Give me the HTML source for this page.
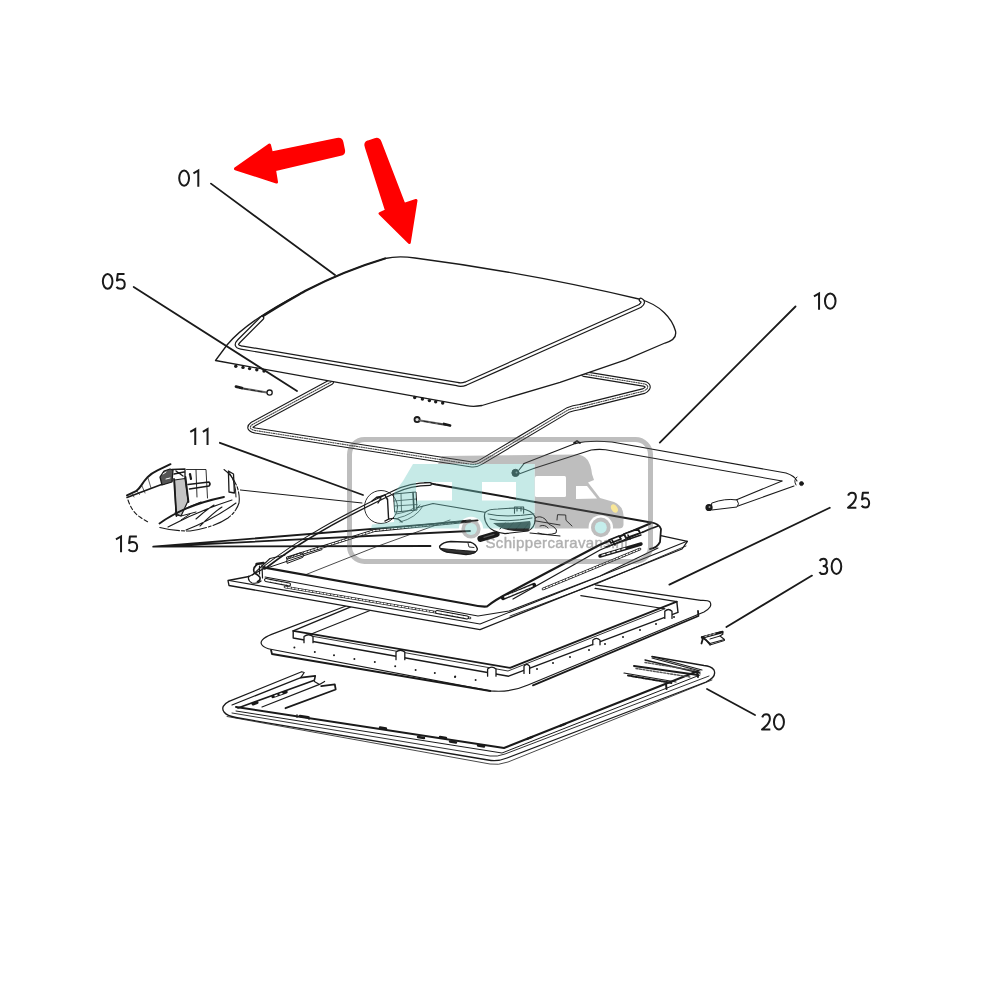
<!DOCTYPE html>
<html><head><meta charset="utf-8"><style>
html,body{margin:0;padding:0;background:#fff;width:1000px;height:1000px;overflow:hidden}
svg{position:absolute;left:0;top:0}
.lbl{font-family:"Liberation Sans",sans-serif;font-size:23px;fill:#1a1a1a}
</style></head><body>
<svg width="1000" height="1000" viewBox="0 0 1000 1000">
<g fill="none" stroke="#1a1a1a" stroke-linecap="round" stroke-linejoin="round">

<!-- ===== Seal 05 ===== -->
<g id="seal">
<path d="M331 382 L252.5 424.5 Q247 428.5 255 430.5 L472 464.5 Q476 465 481 462 L568 410 Q573 408 580 407 L644 391 Q651 387 645 384 L584 374" stroke-width="6"/>
<path d="M331 382 L252.5 424.5 Q247 428.5 255 430.5 L472 464.5 Q476 465 481 462 L568 410 Q573 408 580 407 L644 391 Q651 387 645 384 L584 374" stroke="#fff" stroke-width="3.8"/>
<path d="M331 382 L252.5 424.5 Q247 428.5 255 430.5 L472 464.5 Q476 465 481 462 L568 410 Q573 408 580 407 L644 391 Q651 387 645 384 L584 374" stroke="#444" stroke-width="1.1" stroke-dasharray="1.2 1.2"/>
</g>

<!-- ===== Lid 01 ===== -->
<g id="lid">
<path d="M215.5 360.5 L227 345 C240 329 262 313 305 291 C330 278 360 266 385 258.5 Q398 255.5 415 258 Q530 273 641 299.5 C660 305 672 318 675.5 331 C677 338 672 341 665 343 L625.6 359.8 L560 382.3 L482 405.5 Q474 407 466.4 405.7 Z" fill="#fff" stroke-width="1.3"/>
<path d="M260 318 C280 305 300 294 305 291 C330 278 360 266 385 258.5" stroke-width="2.2"/>
<path d="M262 318 L239 341 Q234 346 241 347.5 L457 384 Q461 385.5 466 383.5 L640 306 Q645 302 641 300" stroke-width="4.6"/>
<path d="M262 318 L239 341 Q234 346 241 347.5 L457 384 Q461 385.5 466 383.5 L640 306 Q645 302 641 300" stroke="#fff" stroke-width="2.2"/>
</g>
<g id="bumps" fill="#1a1a1a" stroke="none">
<circle cx="235.8" cy="366.2" r="1.7"/><circle cx="243" cy="367.4" r="1.7"/><circle cx="249.6" cy="368.6" r="1.7"/><circle cx="256.8" cy="369.8" r="1.7"/><circle cx="264" cy="371" r="1.7"/>
<circle cx="414.7" cy="397.5" r="1.7"/><circle cx="422.4" cy="399" r="1.7"/><circle cx="429.4" cy="400.6" r="1.7"/><circle cx="435.7" cy="401.8" r="1.7"/><circle cx="442.7" cy="403" r="1.7"/>
</g>
<!-- screws -->
<g id="screws">
<path d="M240 388 L267 392.5" stroke="#666" stroke-width="2.2"/>
<path d="M244 388.8 l4 0.6 m3 0.6 l4 0.6 m3 0.6 l4 0.6" stroke="#222" stroke-width="1"/>
<path d="M236 386.6 L242 388" stroke-width="2.8"/>
<circle cx="269.6" cy="392.6" r="2.6" fill="#fff" stroke-width="1.3"/>
<circle cx="417.1" cy="419.6" r="2.6" fill="#ddd" stroke-width="1.8"/>
<path d="M420 420.5 L446 424.8" stroke="#666" stroke-width="2.2"/>
<path d="M424 421.3 l4 0.6 m3 0.6 l4 0.6 m3 0.6 l4 0.6" stroke="#222" stroke-width="1"/>
<path d="M444 424 L450 425.5" stroke-width="2.8"/>
</g>

<!-- ===== Frame 20 ===== -->
<g id="frame20">
<path d="M229 701.4 Q220 706 224 712 Q227 716 236 717.5 L488 760 Q497 762 507 758 L706 682 Q717 677 714 670 Q711 666 704 665.5 L652 656.5" stroke-width="1.3"/>
<path d="M232 713 L490 756 Q497 757 505 754 L709 676" stroke-width="0.9"/>
<path d="M227 716.5 L490 764 Q498 765.5 508 762 L712 680" stroke-width="0.8"/>
<path d="M236 707 L504 748 L698 671" stroke-width="2"/>
<path d="M236 711 L502 753 L700 675" stroke-width="1"/>
<path d="M418 737 l6 1 M450 741.5 l6 1 M478 745.5 l6 1 M527 739 l5 -2 M560 726 l5 -2" stroke-width="2.4"/>
<!-- left rails -->
<path d="M229 701.4 L301.7 671.7 L304.2 672.5 L300.8 677.6 L232 705" stroke-width="1.2"/>
<path d="M300.8 677.6 L315.3 675.9 L314.4 680.2 L238 708" stroke-width="1.6"/>
<path d="M314.4 681.5 L319.5 684.4 L324.6 681.4 M319.5 684.4 L262 707" stroke-width="1.2"/>
<path d="M321.2 686.1 L334.8 684.4 L335.7 689.5 L285.5 708.2" stroke-width="1.8"/>
<path d="M273 696.5 L286 692" stroke-width="3.4"/>
<path d="M275 695.8 l2 -0.7 m3 -1 l2 -0.7" stroke="#fff" stroke-width="1.4"/>
<path d="M253 704 l4 -1.5" stroke-width="3"/>
<path d="M300 716 l8 1.2 M380 727.5 l6 1 M440 737 l6 1" stroke-width="2.4"/>
<path d="M297 714.6 l0 3 m12 -1 l0 3" stroke-width="1"/>
<!-- right rails -->
<path d="M652 656.5 L702 670 M652 658 L700 671" stroke-width="1.1"/>
<path d="M645 660 L700 673" stroke-width="1.3"/>
<path d="M634 666 L698 675" stroke-width="2"/>
<path d="M624 673 L676 682" stroke-width="1.2"/>
<path d="M628 675.5 L672 683" stroke-width="2" stroke-dasharray="2 1.5"/>
<path d="M645 662.5 L695 670.5 M636 668.5 L690 677" stroke="#555" stroke-width="1.4" stroke-dasharray="2 1.5"/>
<path d="M697 672 l1 5 M666 684 l0.5 5" stroke-width="2"/>
</g>

<!-- ===== Frame B (30) ===== -->
<g id="frameB">
<path d="M346 606 L271.6 634.4 Q258 640 262 645 Q264 648 272 649.5 L490 690.8 Q510 693 528 685 L704 612 Q713 607 710 602 Q708 600 700.8 600.4 L595.2 584.8" fill="#fff" stroke-width="1.2"/>
<path d="M271 650 L272 654 L490.4 691 M533 685.3 L698.4 616 L698 611" stroke-width="1.8"/>
<!-- inner raised frame -->
<path d="M350.8 606.8 L293.2 630.8 L293.2 638 L508.6 676.2 L678 612.4 L676.8 601.6 L595.2 588.4" stroke-width="1.4"/>
<path d="M293.2 630.8 L510 667.8 L676.8 601.6" stroke-width="1.8"/>
<path d="M310 634.4 L370 610.4 M664.8 608.8 L580.8 595.6" stroke-width="1.1"/>
<path d="M308.8 635.6 L508 671 L664.8 608.8" stroke-width="0.9"/>
<path d="M304.0 642.7 L304.0 636.5 Q308.5 633.0 313.0 636.5 L313.0 642.7 M396.0 659.7 L396.0 652.0 Q400.4 648.5 404.8 652.0 L404.8 659.7 M487.6 676.2 L487.6 668.9 Q491.8 665.4 496.0 668.9 L496.0 676.2 M524.0 673.4 L524.0 666.1 Q526.8 662.6 529.6 666.1 L529.6 673.4 M592.8 644.8 L592.8 640.1 Q596.4 636.6 600.0 640.1 L600.0 644.8 M664.8 618.4 L664.8 611.3 Q668.4 607.8 672.0 611.3 L672.0 618.4" fill="#fff" stroke-width="1.3"/>
<!-- dots -->
<g fill="#1a1a1a" stroke="none">
<circle cx="294.4" cy="647.6" r="1"/><circle cx="314.8" cy="652" r="1"/><circle cx="334" cy="655.3" r="1"/>
<circle cx="354.4" cy="658.9" r="1"/><circle cx="374.8" cy="662" r="1"/><circle cx="395.2" cy="666.3" r="1"/>
<circle cx="415.6" cy="670" r="1"/><circle cx="434.8" cy="673" r="1"/><circle cx="455.2" cy="676.4" r="1"/>
<circle cx="475.6" cy="680" r="1"/><circle cx="455" cy="677" r="1"/>
<circle cx="537" cy="669" r="1"/><circle cx="553" cy="663" r="1"/><circle cx="570" cy="657" r="1"/>
<circle cx="589" cy="650" r="1"/><circle cx="605" cy="644" r="1"/><circle cx="623" cy="637" r="1"/>
<circle cx="640" cy="630" r="1"/><circle cx="656" cy="624" r="1"/><circle cx="674" cy="617" r="1"/>
</g>
</g>

<!-- ===== Rod 10 ===== -->
<g id="rod10">
<path d="M524 463.6 L575.2 443.6 Q589 440 612 442 L786 473 Q795 476 797 481" stroke-width="1.1"/>
<path d="M533.6 468.4 L591.2 450 Q598 449 605.6 449.7 L782 481" stroke-width="1.1"/>
<path d="M782 481 L736 500 L712 506 M794 486 L738 506 L712 509" stroke-width="1.1"/>
<path d="M712 503 Q725 498 737 500 Q740 504 737 507 L712 510 Z" fill="#fff" stroke-width="1"/>
<circle cx="709" cy="507.5" r="3" fill="#1a1a1a" stroke-width="1.2"/><circle cx="709.5" cy="507" r="1" fill="#999" stroke="none"/>
<circle cx="801.5" cy="483.6" r="2" fill="#1a1a1a" stroke-width="0.8"/>
<path d="M797 477 Q793 480 796 485" stroke-width="1"/>
<circle cx="515.5" cy="472.9" r="3.6" fill="#1a1a1a" stroke-width="1"/>
<circle cx="516.5" cy="472.4" r="1" fill="#888" stroke="none"/>
<path d="M519 470 L524 463.6 M519 474 L533.6 468.4" stroke-width="1.1"/>
<path d="M574 443 l3 -2 l3 2" stroke-width="1.8"/>
</g>

<!-- ===== Clip 30 ===== -->
<g id="clip30">
<path d="M702 637 L722 631.5 L723 634 L720 636 L724.5 639.5 L710 643.5 L706 640 Z" fill="#fff" stroke-width="1.1"/>
<path d="M702 637.5 L722.5 632" stroke-width="2.4"/>
<path d="M705 636.5 l2 -0.6 m2 -0.5 l2 -0.6 m2 -0.5 l2 -0.6" stroke="#fff" stroke-width="0.8"/>
<path d="M702 637 L706 640 L710 644.5 M703 638 L701.5 643.5" stroke-width="1.8"/>
<path d="M710 645 L724.5 640.5" stroke-width="1"/>
<path d="M720 636 L710 639" stroke-width="1"/>
</g>

<!-- ===== Frame 25 ===== -->
<g id="frame25">
<!-- flange -->
<path d="M265 568 L249 576.5 L228 580.5 L229 585.5 L480 629.6 L682 549 L687.4 541.3 L660.8 535.7" fill="#fff" stroke-width="1.3"/>
<path d="M229 580.5 L480 624 L687 541.3" stroke-width="1.1"/>
<!-- window body fill -->
<path d="M264.6 567.6 L375 506 Q400 484 430 483.6 L651 522.4 Q660 524 660.8 530 L660 542 L600 576 L509 611 L478 616 L265 577 Z" fill="#fff" stroke="none"/>
<!-- window front edges -->
<path d="M264.6 567.6 L470 604.5 Q480 607 487 606.5 Q495 600 509 592.8 L548 572 L600 544.7 L649.6 523.8" stroke-width="2.1"/>
<path d="M265 577 L478 616 L509 611 L600 576 L658 548" stroke-width="1.1"/>
<path d="M513 599 L600 550 L642.6 532.2" stroke-width="1.3"/>
<path d="M510 616 L600 582.4 L686 546" stroke-width="0.9"/>
<path d="M285 587 L470 618" stroke-width="2.6"/>
<path d="M285 587 L470 618" stroke="#fff" stroke-width="1.2" stroke-dasharray="2 1.6"/>
<path d="M543 589 L600 565.5 L640 549" stroke-width="2.6"/>
<path d="M543 589 L600 565.5 L640 549" stroke="#fff" stroke-width="1.2" stroke-dasharray="2 1.6"/>
<!-- right corner box -->
<path d="M649.6 523.8 L651 522.4 Q659 523.5 661 529 L660 542 Q657 548 650 549 M642.6 532.2 Q652 528 658 526" stroke-width="1.8"/>
<path d="M609 540 L619 536 L621 539 L611 543 Z M624 534 L638 529 L640 533 L626 538 Z" fill="#fff" stroke-width="1.8"/>
<path d="M606 547 L641 535" stroke-width="1.4"/>
<path d="M615 545 l-3 -5 M630 539 l-2 -4" stroke-width="1.6"/>
<path d="M600 556 L641 544" stroke-width="3.4"/>
<path d="M602 555.3 l3 -0.9 m2 -0.6 l3 -0.9 m2 -0.6 l3 -0.9 m2 -0.6 l3 -0.9 m2 -0.6 l3 -0.9" stroke="#fff" stroke-width="1.2"/>
<!-- back-right edge -->
<path d="M425 483 Q430 483 436 484.5 L651 522.4" stroke-width="2"/>
<path d="M416 508 L433 503.5 L560 525" stroke-width="1.1"/>
<!-- left rail -->
<path d="M264.6 567.6 C300 540 340 518 394 492 Q410 484 430 484" stroke-width="4"/>
<path d="M266 566 C300 539.5 340 518 394 492 Q410 484 430 484" stroke="#fff" stroke-width="1.4"/>
<path d="M287.4 558 L375 530.4 L470 521" stroke-width="3"/>
<path d="M287.4 558 L375 530.4 L470 521" stroke="#fff" stroke-width="1.3" stroke-dasharray="2 1.6"/>
<path d="M267 568 L322 549.6" stroke-width="1"/>
<path d="M305.4 574.8 L375 547.2 L450 520" stroke-width="0.8"/>
<path d="M287 563 Q285 558 292 556 L300 553 Q305 553 303 557 Z" stroke-width="1"/>
<!-- slots -->
<path d="M266 580 L289 584.5" stroke-width="4"/><path d="M266 580 L289 584.5" stroke="#fff" stroke-width="1.8" stroke-dasharray="4 1.5"/>
<path d="M437 612 L467 617.5" stroke-width="4"/><path d="M437 612 L467 617.5" stroke="#fff" stroke-width="1.8" stroke-dasharray="4 1.5"/>
<path d="M503 598 L534 585" stroke-width="4.2"/><path d="M505 597 L532 586" stroke="#fff" stroke-width="1.8" stroke-dasharray="3 1.5"/>
<!-- hinge knuckle -->
<path d="M256.5 564 L263.5 563" stroke-width="2.4"/>
<path d="M257 564.5 Q252 568 254.5 573 Q259 575.5 260 577.5 Q260.5 581 257.5 581.5" stroke-width="1.6"/>
<path d="M249 576 Q247 580 252 583 Q258 584 261 581 M262 565 L262.5 578 M259.5 566 L259.5 574" stroke-width="1.2"/>
<path d="M252.5 575 L270 558.5 L285 555" stroke-width="1.1"/>
</g>

<!-- ===== Items 15 ===== -->
<g id="items15">
<path d="M439.6 546.2 Q443 542 450.8 541.5 L470.4 542.2 Q476 544 477.4 549 Q477 554 466 554.6 L446.6 552 Q439 550 439.6 546.2 Z" fill="#fff" stroke-width="1.4"/>
<path d="M441 548.5 Q455 550 476 551.5 Q474 554 466 554 L448 552 Q442 551 441 548.5 Z" fill="#333" stroke-width="1"/>
<path d="M468 543 l1 4 l5 0.5" stroke-width="0.9"/>
<path d="M480.5 538.8 L496.5 534" stroke-width="6.2"/>
<path d="M484 537.3 L494 534.4" stroke="#555" stroke-width="1.2"/>
<path d="M485 512.6 Q488 509 498 509 L514.5 508 L520 508.5 Q532 510 535 516.8 Q536 527 528 531 L505 533.6 Q492 532 488 526 Q483 519 485 512.6 Z" fill="#fff" stroke-width="1.2"/>
<path d="M493 523 Q505 533 528 531 Q532 526 530 521 Q512 523 493 523 Z" fill="#2a2a2a" stroke="none"/>
<path d="M490 519 Q505 523 532 518 M488 514 Q505 518 534 514 M500 529 l5 -6 m3 6 l5 -6 m3 6 l5 -6 m3 6 l4 -5" stroke-width="1"/>
<path d="M514.5 513.3 L514.5 507 L523.6 507 L523.6 513.3 M517 507 l0 4 M521 507 l0 4" stroke-width="1.1"/>
<path d="M535 518 Q540 515 545 519 Q548 525 554 527 Q558 530 556 533 Q548 536 538 533 M540 526 Q545 524 548 528 M557 520 L557.5 514.7 L565.7 515 L566 520.3 L572 526 M530 533 L560 536" stroke-width="1"/>
</g>

<!-- ===== Detail ellipse (11) ===== -->
<g id="detail">
<path d="M128 500 Q132 512 140 517 Q144 520 148 522" stroke-width="1.1" stroke-dasharray="4 2.5"/>
<path d="M224 469.5 Q233 476 237.4 487.5 Q240 496 239 503 Q236 512 228 518 Q215 527 190 531 Q172 531 158 527" stroke-width="1.1" stroke-dasharray="20 2 3 2"/>
<path d="M229 472 Q236 482 236 497" stroke-width="1"/>
<path d="M127 495.4 Q132 493 136 491.2 Q139 489 141.3 485.4 Q144 481 147.8 476.9 Q152 473 157.5 470.4 L170.5 464.2" stroke-width="2"/>
<path d="M127 497.5 L160.8 484.7 L172 480.8" stroke-width="1.6"/>
<path d="M132 494 l2 3 M137 491 l2.5 3.5 M142 486 l3 7 M148 478 l3 10" stroke-width="0.7"/>
<path d="M160 477 L164 471 L170 469 L173 470 L172 482 L162 485 Z" fill="#555" stroke-width="1.3"/>
<path d="M163 474 l3 -2 M166 479 l4 -1" stroke="#fff" stroke-width="1"/>
<path d="M174.5 480 L185 478.5 L188 501 L181 516 L176 515 Z" fill="#c4c4c4" stroke-width="1.2"/>
<path d="M174 479 L176.5 516 M185.5 477 L188.5 502" stroke-width="1.8"/>
<path d="M172 469.5 L185 469 L185 478 M176 471 l7 5 M174 474 l10 -2" stroke-width="1.3"/>
<path d="M186.5 469.5 L206 469.5 L207.5 498 M196 470 L197 497" stroke-width="0.9"/>
<path d="M188 484.5 L209 482 Q211 484 209 486 L189.5 489" stroke-width="1.6"/>
<path d="M190 474 l1 5" stroke-width="2.2"/>
<path d="M159.5 523.5 Q185 505 224 497" stroke-width="1.8"/>
<path d="M168 527 Q198 511 232 500 M186 530 Q214 519 236 503 M177 513 Q190 506 201 502 M196 519 Q206 510 214 505 M200 526 Q214 512 222 507" stroke-width="1.1"/>
<path d="M175 513 L181 516 L196 512 M181 520 L190 514" stroke-width="1"/>
<path d="M228.4 471 L229 492 L234.4 493 L233.5 474 Z" stroke-width="1.3"/>
<path d="M240.4 490 L362 503" stroke-width="1"/>
</g>
<!-- small callout circle on frame -->
<circle cx="381" cy="507" r="16.5" fill="none" stroke-width="0.9"/>
<g id="hinge11">
<path d="M387.5 499 L388.6 519 M385 521 Q390 517 398 519 L402 522" stroke-width="1.4"/>
<path d="M394 494 L416 492 L417 510 L395 512 Z" stroke-width="1"/>
<path d="M401 493.5 L401.5 511 M394 501 L416.5 499 M394.5 506 L417 504.5" stroke-width="0.8"/>
<path d="M413 492.5 L414 510" stroke-width="1.6"/>
<path d="M372 501 l5 -4 l4 1 l-3 5 M379 497 l6 -2 l2 4" stroke-width="1.4"/>
<path d="M398 518 Q412 515 420 505 M400 522 Q416 518 423 506 M396 514 Q408 512 414 508" stroke-width="0.8"/>
</g>

<!-- ===== Labels ===== -->
<g id="labels" fill="none" stroke="#1a1a1a" stroke-width="2">
<ellipse cx="184.12" cy="178.12" rx="4.92" ry="7.67"/>
<path d="M193.45 173.37 L198.30 170.45 L198.30 186.75" stroke-linecap="butt" stroke-linejoin="miter"/>
<ellipse cx="107.65" cy="281.35" rx="4.80" ry="7.40"/>
<path d="M124.50 273.95 L117.78 273.95 L116.95 280.61 C118.11 279.72 119.36 279.43 120.60 279.43 C123.26 279.43 124.75 281.79 124.75 284.16 C124.75 287.12 123.09 288.75 120.43 288.75 C118.77 288.75 117.28 288.01 116.45 286.83" stroke-linecap="butt"/>
<path d="M190.25 431.88 L195.25 429.05 L195.25 444.90" stroke-linecap="butt" stroke-linejoin="miter"/>
<path d="M202.85 431.88 L207.55 429.05 L207.55 444.90" stroke-linecap="butt" stroke-linejoin="miter"/>
<path d="M115.95 539.28 L121.05 536.45 L121.05 552.30" stroke-linecap="butt" stroke-linejoin="miter"/>
<path d="M136.89 536.45 L129.93 536.45 L129.07 543.15 C130.27 542.26 131.56 541.96 132.85 541.96 C135.60 541.96 137.15 544.35 137.15 546.73 C137.15 549.71 135.43 551.35 132.68 551.35 C130.96 551.35 129.41 550.61 128.55 549.41" stroke-linecap="butt"/>
<path d="M813.95 296.36 L819.05 293.45 L819.05 309.70" stroke-linecap="butt" stroke-linejoin="miter"/>
<ellipse cx="830.25" cy="301.10" rx="5.30" ry="7.65"/>
<path d="M848.11 495.66 C848.92 493.10 850.38 492.65 852.00 492.65 C854.59 492.65 855.89 494.61 855.89 497.01 C855.89 499.72 854.27 501.68 852.41 503.79 L847.95 507.70 L856.35 507.70" stroke-linecap="butt"/>
<path d="M868.92 492.80 L862.81 492.80 L862.05 499.44 C863.11 498.55 864.24 498.26 865.38 498.26 C867.79 498.26 869.15 500.62 869.15 502.98 C869.15 505.93 867.64 507.55 865.22 507.55 C863.71 507.55 862.36 506.81 861.60 505.63" stroke-linecap="butt"/>
<path d="M819.61 560.83 C820.62 559.31 822.02 558.85 823.35 558.85 C825.53 558.85 826.70 560.52 826.70 562.65 C826.70 564.93 825.30 565.99 822.73 565.99 M822.73 565.99 C825.69 565.99 827.25 567.51 827.25 569.79 C827.25 572.53 825.69 574.05 823.35 574.05 C821.79 574.05 820.23 573.44 819.45 571.92" stroke-linecap="butt"/>
<ellipse cx="836.45" cy="566.45" rx="4.80" ry="7.60"/>
<path d="M762.21 717.39 C763.01 714.81 764.45 714.35 766.05 714.35 C768.61 714.35 769.89 716.33 769.89 718.76 C769.89 721.49 768.29 723.47 766.45 725.60 L762.05 729.55 L770.35 729.55" stroke-linecap="butt"/>
<ellipse cx="778.95" cy="721.95" rx="5.00" ry="7.60"/>
</g>

<!-- ===== Leader lines ===== -->
<g id="leaders" stroke-width="1.8">
<path d="M211 183.6 L335 275"/>
<path d="M133.7 287 L297 391"/>
<path d="M219.9 442.8 L363 495"/>
<path d="M153.2 546.7 L430.5 546 M153.2 546.7 L477.6 520.4 M153.2 546.7 L470 531"/>
<path d="M795.5 306.5 L659.8 442.6"/>
<path d="M829.8 507.8 L669.4 584.6"/>
<path d="M812 575.6 L726.4 627"/>
<path d="M755 715 L707 689"/>
</g>

</g>

<!-- ===== Red arrows ===== -->
<g fill="#ff0000" stroke="#ff0000" stroke-width="3" stroke-linejoin="round">
<path d="M235.5 168.8 L269.5 145 L271.5 153 L337 139.5 Q341 138.6 341.9 142.3 L343.5 150 Q344.2 153.6 340.5 154.4 L274.5 169.8 L276.5 182 Z"/>
<path d="M366.3 147 Q364.6 142.8 368.5 141.8 L375 139.6 Q378.6 138.6 380 142 L404 204.5 L416 200.5 L409.3 242.5 L380 213.5 L386.5 210.5 Z"/>
</g>


<!-- ===== Watermark ===== -->
<defs>
<mask id="vanmask" maskUnits="userSpaceOnUse" x="0" y="0" width="1000" height="1000">
<rect x="0" y="0" width="1000" height="1000" fill="#fff"/>
<rect x="416" y="482" width="36" height="18.5" fill="#000"/>
<rect x="482" y="482" width="34" height="18.5" fill="#000"/>
<rect x="535" y="476" width="31" height="21" rx="1.5" fill="#000"/>
<path d="M576 486 L587 486 L597 498.5 L576 499 Z" fill="#000"/>
<circle cx="471" cy="529" r="12.2" fill="#000"/>
<circle cx="600.8" cy="527.4" r="12.2" fill="#000"/>
</mask>
</defs>
<g opacity="0.4">
<rect x="349.5" y="439.5" width="301" height="122" rx="15" ry="15" fill="none" stroke="#5e5e5e" stroke-width="5"/>
<g mask="url(#vanmask)">
<path d="M442 456 L577 454.5 Q590 455 592 474 L594 480 L588 482.5 L600 498 L614 502 Q623 506 623.5 515 L623.5 525 Q623 528.5 619 528.5 L534.5 528.5 L534.5 464 L438 464 Z" fill="#5e5e5e"/>
<path d="M413 464 L534.5 464 L534.5 528.5 L371 528.5 L372 524.5 L394 522 L394 493 L403 481 Z" fill="#73cbc5"/>
</g>
<circle cx="471" cy="529" r="9.6" fill="#5e5e5e"/>
<circle cx="471" cy="529" r="6" fill="#73cbc5"/>
<circle cx="600.8" cy="527.4" r="9.8" fill="#5e5e5e"/>
<circle cx="600.8" cy="527.4" r="6" fill="#6fd6d0"/>
<ellipse cx="614.4" cy="508.5" rx="3" ry="4.5" transform="rotate(-30 614.4 508.5)" fill="#f2c500"/>
<text x="485.5" y="548.3" font-family="Liberation Sans, sans-serif" font-size="15" fill="#3a3a3a" stroke="#3a3a3a" stroke-width="0.45" textLength="142" lengthAdjust="spacing">Schippercaravans.nl</text>
</g>
</svg>
</body></html>
